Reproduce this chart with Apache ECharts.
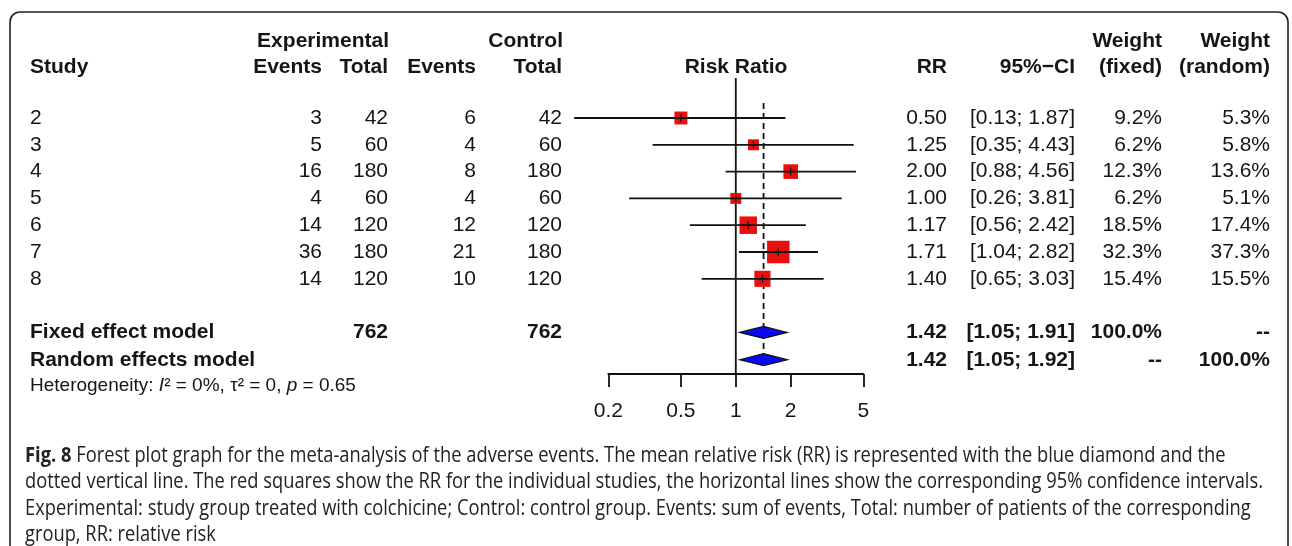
<!DOCTYPE html>
<html>
<head>
<meta charset="utf-8">
<script src="https://cdn.jsdelivr.net/npm/echarts@6/dist/echarts.min.js"></script>
<style>
html,body{margin:0;padding:0;background:#fff;}
#chart{width:1292px;height:546px;}
</style>
</head>
<body>
<div id="chart"></div>
<script>
// ---------------- data ----------------
const studies = ['2', '3', '4', '5', '6', '7', '8'];
const expEvents = [3, 5, 16, 4, 14, 36, 14];
const expTotal = [42, 60, 180, 60, 120, 180, 120];
const ctrlEvents = [6, 4, 8, 4, 12, 21, 10];
const ctrlTotal = [42, 60, 180, 60, 120, 180, 120];
const rr = [0.50, 1.25, 2.00, 1.00, 1.17, 1.71, 1.40];
const ciLow = [0.13, 0.35, 0.88, 0.26, 0.56, 1.04, 0.65];
const ciHigh = [1.87, 4.43, 4.56, 3.81, 2.42, 2.82, 3.03];
const weightFixed = [9.2, 6.2, 12.3, 6.2, 18.5, 32.3, 15.4];
const weightRandom = [5.3, 5.8, 13.6, 5.1, 17.4, 37.3, 15.5];

const summaryLabels = ['Fixed effect model', 'Random effects model'];
const summaryExpTotal = [762, null];
const summaryCtrlTotal = [762, null];
const summaryRR = [1.42, 1.42];
const summaryLow = [1.05, 1.05];
const summaryHigh = [1.91, 1.92];
const summaryWeightFixed = ['100.0%', '--'];
const summaryWeightRandom = ['--', '100.0%'];

const tickValues = [0.2, 0.5, 1, 2, 5];
const tickLabels = ['0.2', '0.5', '1', '2', '5'];

const captionLines = [
  'Forest plot graph for the meta-analysis of the adverse events. The mean relative risk (RR) is represented with the blue diamond and the',
  'dotted vertical line. The red squares show the RR for the individual studies, the horizontal lines show the corresponding 95% confidence intervals.',
  'Experimental: study group treated with colchicine; Control: control group. Events: sum of events, Total: number of patients of the corresponding',
  'group, RR: relative risk'
];

// ---------------- layout ----------------
const FAMILY = 'Liberation Sans';
const FS = 21;
const ROW0 = 118, ROWH = 26.8;
const YMIN = -1.5, YMAX = 9.55;
const gridTop = ROW0 + YMIN * ROWH;
const gridBottomPx = ROW0 + YMAX * ROWH;
const TXT = '#151515';

const col = { study: 30, expEv: 322, expTot: 388, ctrlEv: 476, ctrlTot: 562, rr: 947, ci: 1075, wf: 1162, wr: 1270 };
const summaryRows = [8, 9.02];
const hetRow = 10.0;

const chart = echarts.init(document.getElementById('chart'), null, { renderer: 'canvas' });

function txt(x, y, text, align, bold, size) {
  return {
    type: 'text', x: x, y: y,
    style: {
      text: text, textAlign: align, textVerticalAlign: 'middle',
      fontFamily: FAMILY, fontSize: size || FS, fontWeight: bold ? 'bold' : 'normal', fill: TXT
    }
  };
}

// caption scale (condensed look)
const CAP_FAMILY = 'Open Sans';
const CAP_FS = 22;
const mctx = document.createElement('canvas').getContext('2d');
mctx.font = CAP_FS + 'px "' + CAP_FAMILY + '"';
const capScale = 1238 / mctx.measureText(captionLines[1]).width;

const headerY1 = 41, headerY2 = 67;
const graphics = [
  { type: 'rect', shape: { x: 10, y: 12, width: 1278, height: 600, r: 10 },
    style: { fill: 'none', stroke: '#222', lineWidth: 1.6 }, silent: true },
  txt(col.study, headerY2, 'Study', 'left', true),
  txt(col.expTot + 1, headerY1, 'Experimental', 'right', true),
  txt(col.ctrlTot + 1, headerY1, 'Control', 'right', true),
  txt(col.expEv, headerY2, 'Events', 'right', true),
  txt(col.expTot, headerY2, 'Total', 'right', true),
  txt(col.ctrlEv, headerY2, 'Events', 'right', true),
  txt(col.ctrlTot, headerY2, 'Total', 'right', true),
  txt(736, headerY2, 'Risk Ratio', 'center', true),
  txt(col.rr, headerY2, 'RR', 'right', true),
  txt(col.ci, headerY2, '95%\u2212CI', 'right', true),
  txt(col.wf, headerY1, 'Weight', 'right', true),
  txt(col.wf, headerY2, '(fixed)', 'right', true),
  txt(col.wr, headerY1, 'Weight', 'right', true),
  txt(col.wr, headerY2, '(random)', 'right', true)
];
const capY = [456, 482, 509, 535];
captionLines.forEach(function (line, i) {
  graphics.push({
    type: 'text', x: 25, y: capY[i], scaleX: capScale,
    style: {
      text: i === 0 ? '{b|Fig. 8} ' + line : line,
      fontFamily: CAP_FAMILY, fontSize: CAP_FS, fill: '#222', textVerticalAlign: 'middle',
      rich: { b: { fontFamily: CAP_FAMILY, fontSize: CAP_FS, fontWeight: 'bold', fill: '#222' } }
    }
  });
});

const ln = Math.log;
const studyIdx = studies.map(function (s, i) { return i; });

const option = {
  animation: false,
  backgroundColor: '#fff',
  textStyle: { fontFamily: FAMILY },
  grid: { left: 608.3, right: 1292 - 863.3, top: gridTop, bottom: 546 - gridBottomPx, containLabel: false },
  xAxis: {
    type: 'value', position: 'bottom', min: ln(tickValues[0]), max: ln(tickValues[tickValues.length - 1]),
    axisLine: { show: true, onZero: false, lineStyle: { color: '#111', width: 1.8 } },
    axisTick: { show: true, length: 13, inside: false, customValues: tickValues.map(ln), lineStyle: { color: '#111', width: 1.8 } },
    axisLabel: {
      show: true, customValues: tickValues.map(ln), margin: 27,
      fontFamily: FAMILY, fontSize: FS, color: TXT,
      formatter: function (v) {
        let best = 0;
        tickValues.forEach(function (t, k) { if (Math.abs(ln(t) - v) < Math.abs(ln(tickValues[best]) - v)) best = k; });
        return tickLabels[best];
      }
    },
    splitLine: { show: false }
  },
  yAxis: { type: 'value', inverse: true, min: YMIN, max: YMAX, show: false },
  graphic: graphics,
  series: [
    { // reference line at RR = 1
      type: 'line', data: [[0, -1.49], [0, YMAX]], symbol: 'none', silent: true,
      lineStyle: { color: '#111', width: 1.8 }, z: 1
    },
    { // pooled estimate dashed line
      type: 'line', data: [[ln(summaryRR[0]), -0.56], [ln(summaryRR[0]), 9.25]], symbol: 'none', silent: true,
      lineStyle: { color: '#111', width: 1.8, type: [6, 4] }, z: 1
    },
    { // study squares
      type: 'scatter', symbol: 'rect', silent: true, z: 2,
      data: studyIdx.map(function (i) { return [ln(rr[i]), i, weightFixed[i]]; }),
      symbolSize: function (v) { return 2 + 3.6 * Math.sqrt(v[2]); },
      itemStyle: { color: '#e8100c', opacity: 1 }
    },
    { // CI lines
      type: 'custom', clip: false, silent: true, z: 3,
      data: studyIdx.map(function (i) { return [ln(ciLow[i]), ln(ciHigh[i]), ln(rr[i]), i]; }),
      renderItem: function (params, api) {
        const a = api.coord([api.value(0), api.value(3)]);
        const b = api.coord([api.value(1), api.value(3)]);
        const c = api.coord([api.value(2), api.value(3)]);
        return { type: 'group', children: [
          { type: 'line', shape: { x1: a[0], y1: a[1], x2: b[0], y2: b[1] }, style: { stroke: '#111', lineWidth: 1.8 } },
          { type: 'line', shape: { x1: c[0], y1: c[1] - 4, x2: c[0], y2: c[1] + 4 }, style: { stroke: '#111', lineWidth: 1.2 } }
        ] };
      }
    },
    { // diamonds
      type: 'custom', clip: false, silent: true, z: 3,
      data: summaryRR.map(function (v, k) { return [ln(summaryLow[k]), ln(summaryHigh[k]), ln(v), summaryRows[k]]; }),
      renderItem: function (params, api) {
        const a = api.coord([api.value(0), api.value(3)]);
        const b = api.coord([api.value(1), api.value(3)]);
        const c = api.coord([api.value(2), api.value(3)]);
        return { type: 'polygon', shape: { points: [a, [c[0], c[1] - 6], b, [c[0], c[1] + 6]] },
          style: { fill: '#0a0af0', stroke: '#111', lineWidth: 1.2 } };
      }
    },
    { // study table rows
      type: 'custom', clip: false, silent: true, z: 4,
      data: studyIdx.map(function (i) { return [0, i]; }),
      renderItem: function (params, api) {
        const i = params.dataIndex;
        const y = api.coord([0, api.value(1)])[1];
        return { type: 'group', children: [
          txt(col.study, y, studies[i], 'left', false),
          txt(col.expEv, y, String(expEvents[i]), 'right', false),
          txt(col.expTot, y, String(expTotal[i]), 'right', false),
          txt(col.ctrlEv, y, String(ctrlEvents[i]), 'right', false),
          txt(col.ctrlTot, y, String(ctrlTotal[i]), 'right', false),
          txt(col.rr, y, rr[i].toFixed(2), 'right', false),
          txt(col.ci, y, '[' + ciLow[i].toFixed(2) + '; ' + ciHigh[i].toFixed(2) + ']', 'right', false),
          txt(col.wf, y, weightFixed[i].toFixed(1) + '%', 'right', false),
          txt(col.wr, y, weightRandom[i].toFixed(1) + '%', 'right', false)
        ] };
      }
    },
    { // summary rows
      type: 'custom', clip: false, silent: true, z: 4,
      data: summaryRows.map(function (r) { return [0, r]; }),
      renderItem: function (params, api) {
        const k = params.dataIndex;
        const y = api.coord([0, api.value(1)])[1];
        const ch = [
          txt(col.study, y, summaryLabels[k], 'left', true),
          txt(col.rr, y, summaryRR[k].toFixed(2), 'right', true),
          txt(col.ci, y, '[' + summaryLow[k].toFixed(2) + '; ' + summaryHigh[k].toFixed(2) + ']', 'right', true),
          txt(col.wf, y, summaryWeightFixed[k], 'right', true),
          txt(col.wr, y, summaryWeightRandom[k], 'right', true)
        ];
        if (summaryExpTotal[k] != null) ch.push(txt(col.expTot, y, String(summaryExpTotal[k]), 'right', true));
        if (summaryCtrlTotal[k] != null) ch.push(txt(col.ctrlTot, y, String(summaryCtrlTotal[k]), 'right', true));
        return { type: 'group', children: ch };
      }
    },
    { // heterogeneity line
      type: 'custom', clip: false, silent: true, z: 4,
      data: [[0, hetRow]],
      renderItem: function (params, api) {
        const y = api.coord([0, api.value(1)])[1];
        return {
          type: 'text', x: col.study, y: y,
          style: {
            text: 'Heterogeneity: {it|I}\u00b2 = 0%, \u03c4\u00b2 = 0, {it|p} = 0.65',
            fontFamily: FAMILY, fontSize: 19, fill: TXT, textVerticalAlign: 'middle',
            rich: { it: { fontFamily: FAMILY, fontSize: 19, fontStyle: 'italic', fill: TXT } }
          }
        };
      }
    }
  ]
};
chart.setOption(option);
</script>
</body>
</html>
